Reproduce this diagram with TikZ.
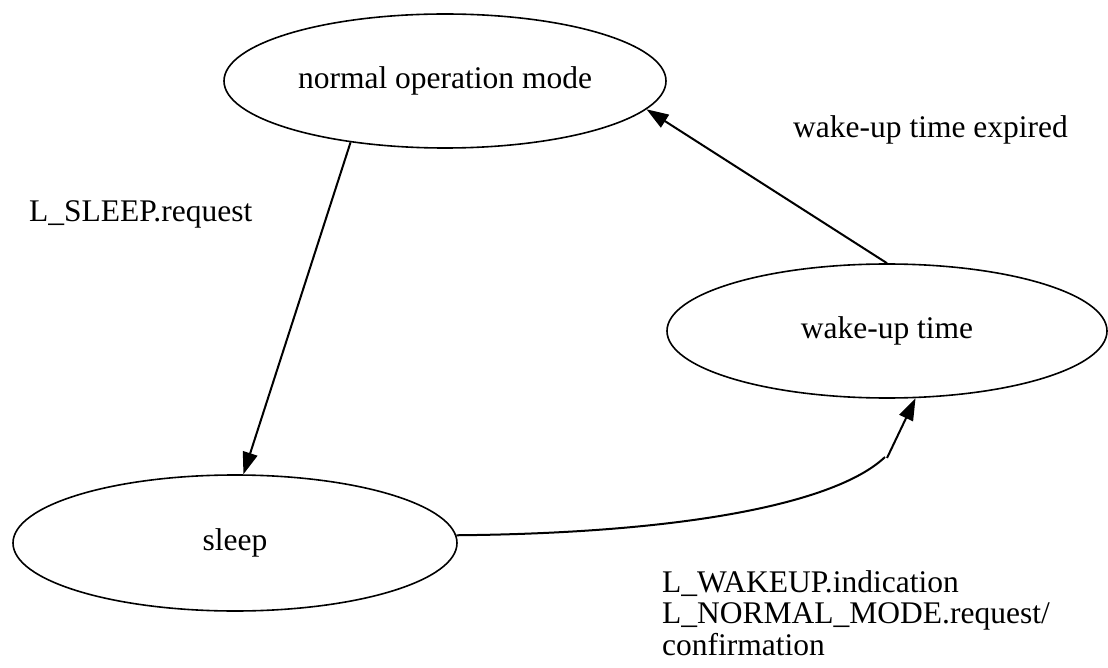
\documentclass[tikz,border=0pt]{standalone}
\usepackage{fontspec}
\setmainfont{Liberation Serif}
\usetikzlibrary{shapes.geometric,arrows.meta}
\begin{document}
\begin{tikzpicture}[x=1pt,y=-1pt,
  state/.style={draw,ellipse,line width=1.6pt,inner sep=0pt,minimum width=442pt,minimum height=134pt,font=\fontsize{31.5}{33}\selectfont},
  lbl/.style={inner sep=0pt,align=left,font=\fontsize{31.5}{31.5}\selectfont},
  conn/.style={line width=2pt,-{Triangle[length=22pt,width=15pt]}}]
\useasboundingbox (0,0) rectangle (1108,668);
\node[state] (n) at (445,81) {normal operation mode};
\node[state,minimum width=440pt] (w) at (887,331) {wake-up time};
\node[state,minimum width=444pt,minimum height=136pt] (s) at (235,543) {sleep};
\node[lbl,anchor=base west] (l1) at (29,222) {L\_SLEEP.request};
\node[lbl,anchor=base west] (l2) at (793,138) {wake-up time expired};
\node[lbl,anchor=base west] (l3) at (662,655) {L\_WAKEUP.indication\\L\_NORMAL\_MODE.request/\\confirmation};
\draw[conn] (n.213) -- (s.83);
\draw[conn] (w.90) -- (n.352.4);
\coordinate (k1) at (885,457);
\coordinate (k2) at (887,458);
\draw[line width=2pt] (s.2.6) .. controls (700,533) and (840,500) .. (k1);
\draw[conn] (k2) -- (w.293);
\end{tikzpicture}
\end{document}
